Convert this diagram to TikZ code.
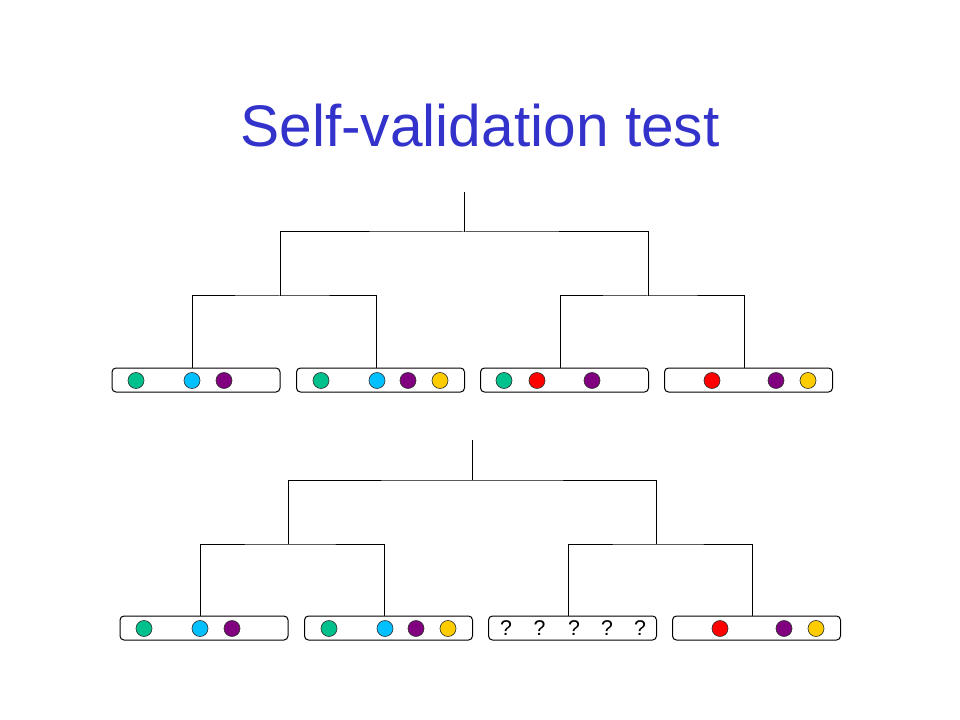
\documentclass[tikz,border=0pt]{standalone}
\usepackage{fontspec}
\setmainfont{Liberation Sans}
\definecolor{titleblue}{HTML}{3333CC}
\definecolor{cteal}{HTML}{00C08C}
\definecolor{ccyan}{HTML}{00C0FF}
\definecolor{cpurple}{HTML}{800080}
\definecolor{cred}{HTML}{FF0000}
\definecolor{cgold}{HTML}{FFCC00}
\begin{document}
\begin{tikzpicture}[x=0.75pt,y=-0.75pt,
  leafbox/.style={draw=black,line width=0.75pt,rounded corners=3pt,minimum width=126pt,minimum height=18pt,inner sep=0pt},
  dot/.style={circle,draw=black!80,line width=0.5pt,minimum size=12pt,inner sep=0pt,fill=#1},
  branch/.style={draw=black,line width=0.75pt},
  qmark/.style={font=\fontsize{16}{18}\selectfont,inner sep=0pt}]
\useasboundingbox (0,0) rectangle (960,720);
\node[text=titleblue,font=\fontsize{44}{50}\selectfont,anchor=base] (title) at (480,147) {Self-validation test};

% ---------- top tree ----------
\node[leafbox] (t1) at (196,380) {};
\node[leafbox] (t2) at (380.5,380) {};
\node[leafbox] (t3) at (564.5,380) {};
\node[leafbox] (t4) at (748.5,380) {};
\coordinate (troot) at (464,192);
\coordinate (tr) at (464,232);
\coordinate (ta) at (280,296);
\coordinate (tb) at (648,296);
\coordinate (tl1) at (192,368);
\coordinate (tl2) at (376,368);
\coordinate (tl3) at (560,368);
\coordinate (tl4) at (744,368);
\draw[branch] (troot) -- (tr);
\draw[branch] (ta) |- (tr) -| (tb);
\draw[branch] (tl1) |- (ta) -| (tl2);
\draw[branch] (tl3) |- (tb) -| (tl4);

\node[dot=cteal] (t1a) at (136,380.5) {};
\node[dot=ccyan] (t1b) at (192,380.5) {};
\node[dot=cpurple] (t1c) at (224,380.5) {};
\node[dot=cteal] (t2a) at (321,380.5) {};
\node[dot=ccyan] (t2b) at (377,380.5) {};
\node[dot=cpurple] (t2c) at (408,380.5) {};
\node[dot=cgold] (t2d) at (440,380.5) {};
\node[dot=cteal] (t3a) at (504,380.5) {};
\node[dot=cred] (t3b) at (537,380.5) {};
\node[dot=cpurple] (t3c) at (592,380.5) {};
\node[dot=cred] (t4a) at (712,380.5) {};
\node[dot=cpurple] (t4b) at (776,380.5) {};
\node[dot=cgold] (t4c) at (808,380.5) {};

% ---------- bottom tree ----------
\node[leafbox] (b1) at (204,628) {};
\node[leafbox] (b2) at (388.5,628) {};
\node[leafbox] (b3) at (572.5,628) {};
\node[leafbox] (b4) at (756.5,628) {};
\coordinate (broot) at (472,440);
\coordinate (br) at (472,480);
\coordinate (ba) at (288,544);
\coordinate (bb) at (656,544);
\coordinate (bl1) at (200,616);
\coordinate (bl2) at (384,616);
\coordinate (bl3) at (568,616);
\coordinate (bl4) at (752,616);
\draw[branch] (broot) -- (br);
\draw[branch] (ba) |- (br) -| (bb);
\draw[branch] (bl1) |- (ba) -| (bl2);
\draw[branch] (bl3) |- (bb) -| (bl4);

\node[dot=cteal] (b1a) at (144,628.5) {};
\node[dot=ccyan] (b1b) at (200,628.5) {};
\node[dot=cpurple] (b1c) at (232,628.5) {};
\node[dot=cteal] (b2a) at (329,628.5) {};
\node[dot=ccyan] (b2b) at (385,628.5) {};
\node[dot=cpurple] (b2c) at (416,628.5) {};
\node[dot=cgold] (b2d) at (448,628.5) {};
\node[qmark] (q1) at (506,628.5) {?};
\node[qmark] (q2) at (539.5,628.5) {?};
\node[qmark] (q3) at (574,628.5) {?};
\node[qmark] (q4) at (607,628.5) {?};
\node[qmark] (q5) at (640,628.5) {?};
\node[dot=cred] (b4a) at (720,628.5) {};
\node[dot=cpurple] (b4b) at (784,628.5) {};
\node[dot=cgold] (b4c) at (816,628.5) {};
\end{tikzpicture}
\end{document}
